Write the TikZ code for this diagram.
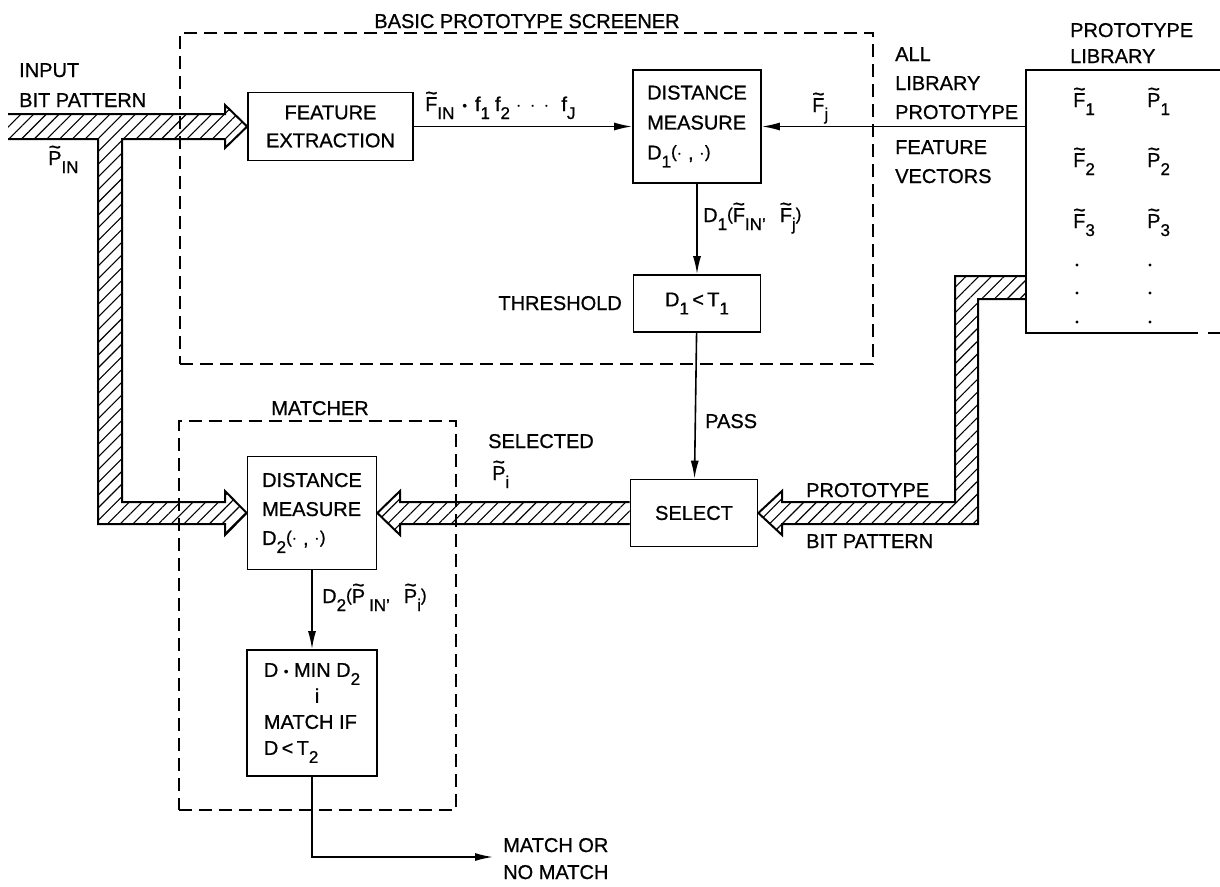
\documentclass[tikz,border=0pt]{standalone}
\usepackage{fontspec}
\setmainfont{Liberation Sans}[FakeBold=0.8]
\usetikzlibrary{arrows.meta,patterns.meta}
\newcommand{\fs}{\fontsize{20}{28}\selectfont}
\newsavebox\tlbox
\newcommand{\tl}[1]{\sbox\tlbox{#1}\makebox[0pt][l]{\makebox[\wd\tlbox]{\raisebox{11pt}{\fontsize{21}{21}\selectfont\char"7E}}}\usebox\tlbox}
\newcommand{\sbs}[1]{\raisebox{-8pt}{\fontsize{17}{17}\selectfont #1}}
\newcommand{\lp}{\raisebox{2pt}{\fontsize{17}{17}\selectfont(}}
\newcommand{\rp}{\raisebox{2pt}{\fontsize{17}{17}\selectfont)}}
\newcommand{\eqd}{\raisebox{1pt}{\fontsize{13}{13}\selectfont\textbullet}}
\begin{document}
\begin{tikzpicture}[x=1pt,y=-1pt,
  box/.style={draw,line width=1.7pt,inner sep=0pt,font=\fs},
  grp/.style={draw,line width=2pt,dash pattern=on 13pt off 7pt,inner sep=0pt},
  lbl/.style={inner sep=0pt,font=\fs},
  arr/.style={line width=1.6pt,-{Latex[length=18pt,width=8pt]}},
  hatch/.style={pattern={Lines[angle=45,distance=9pt,line width=1.1pt]}},
  edge/.style={line width=2pt,line join=miter}]
\useasboundingbox (0,0) rectangle (1220,886);

% boxes
\node[box,minimum width=165pt,minimum height=68pt,align=center] (fe) at (330.5,126.5) {FEATURE\\EXTRACTION};
\node[box,minimum width=128pt,minimum height=113pt,align=left,font=\fontsize{20}{30}\selectfont] (dm1) at (697,126.5) {DISTANCE\\MEASURE\\D\sbs{1}\lp$\cdot$ , $\cdot$\rp};
\node[box,minimum width=127pt,minimum height=57pt] (th) at (697,303.5) {D\sbs{1}\,<\,T\sbs{1}};
\node[box,minimum width=127pt,minimum height=67pt] (sel) at (694,513) {SELECT};
\node[box,minimum width=129pt,minimum height=113pt,align=left,font=\fontsize{20}{29}\selectfont] (dm2) at (312,513) {DISTANCE\\MEASURE\\D\sbs{2}\lp$\cdot$ , $\cdot$\rp};
\node[box,minimum width=130pt,minimum height=126pt,align=left,font=\fontsize{20}{26}\selectfont] (mn) at (312,713) {D \eqd{} MIN D\sbs{2}\\\hspace*{51pt}i\\MATCH IF\\D\,<\,T\sbs{2}};

% group boxes
\node[grp,minimum width=693pt,minimum height=331pt] (scr) at (526.5,198.5) {};
\node[grp,minimum width=277pt,minimum height=389pt] (mat) at (317.5,615.5) {};
\node[lbl,anchor=base] (scrt) at (527,28) {BASIC PROTOTYPE SCREENER};
\node[lbl,anchor=base] (matt) at (320,415) {MATCHER};

% library
\coordinate (libF) at (1026,126.5);
\draw[line width=1.7pt] (1220,70) -- (1026,70) -- (1026,333) -- (1198,333);
\draw[line width=1.7pt] (1208,333) -- (1220,333);
\node[lbl,anchor=base west,align=left,font=\fontsize{20}{26}\selectfont] (libt) at (1070,63) {PROTOTYPE\\LIBRARY};
\node[lbl,anchor=base west] (f1) at (1073,107) {\tl{F}\sbs{1}};
\node[lbl,anchor=base west] (p1) at (1147,107) {\tl{P}\sbs{1}};
\node[lbl,anchor=base west] (f2) at (1073,167) {\tl{F}\sbs{2}};
\node[lbl,anchor=base west] (p2) at (1147,167) {\tl{P}\sbs{2}};
\node[lbl,anchor=base west] (f3) at (1073,228) {\tl{F}\sbs{3}};
\node[lbl,anchor=base west] (p3) at (1147,228) {\tl{P}\sbs{3}};
\foreach \yy in {265,293,322}{
  \fill (1077,\yy) circle (1.6pt);
  \fill (1150,\yy) circle (1.6pt);
}

% hatched input bus
\fill[hatch] (8,114) -- (225,114) -- (225,105) -- (fe.west) -- (225,148) -- (225,139) -- (122,139) -- (122,502) -- (225,502) -- (225,491) -- (dm2.west) -- (225,535) -- (225,524) -- (98,524) -- (98,139) -- (8,139) -- cycle;
\draw[edge] (8,114) -- (225,114) -- (225,105) -- (fe.west) -- (225,148) -- (225,139) -- (122,139) -- (122,502) -- (225,502) -- (225,491) -- (dm2.west) -- (225,535) -- (225,524) -- (98,524) -- (98,139) -- (8,139);

% hatched library bus
\fill[hatch] (1026,276) -- (955,276) -- (955,502) -- (782,502) -- (782,491) -- (sel.east) -- (782,535) -- (782,524) -- (978,524) -- (978,299) -- (1026,299) -- cycle;
\draw[edge] (1026,276) -- (955,276) -- (955,502) -- (782,502) -- (782,491) -- (sel.east) -- (782,535) -- (782,524) -- (978,524) -- (978,299) -- (1026,299);

% hatched selected bus
\fill[hatch] (sel.west |- 0,502) -- (400,502) -- (400,491) -- (dm2.east) -- (400,535) -- (400,524) -- (sel.west |- 0,524) -- cycle;
\draw[edge] (sel.west |- 0,502) -- (400,502) -- (400,491) -- (dm2.east) -- (400,535) -- (400,524) -- (sel.west |- 0,524);

% thin connectors
\draw[arr] (fe) -- (dm1);
\draw[arr] (libF) -- (dm1);
\draw[arr] (dm1) -- (th);
\draw[arr] (th) -- (sel);
\draw[arr] (dm2) -- (mn);
\coordinate (out) at (493,857);
\draw[arr] (mn.south) |- (out);

% labels
\node[lbl,anchor=base west,align=left,font=\fontsize{20}{30}\selectfont] (inl) at (19,107) {INPUT\\BIT PATTERN};
\node[lbl,anchor=base west] (pin) at (48,165) {\tl{P}\sbs{IN}};
\node[lbl,anchor=base west] (fin) at (425,111) {\tl{F}\sbs{IN}\hspace{8pt}\eqd\hspace{8pt}f\sbs{1}\hspace{5pt}f\sbs{2}\hspace{6pt}$\cdot\,\cdot\,\cdot$\hspace{12pt}f\sbs{J}};
\node[lbl,anchor=base west] (fj) at (812,112) {\tl{F}\sbs{j}};
\node[lbl,anchor=base west,align=left,font=\fontsize{20}{29}\selectfont] (allt) at (895,183) {ALL\\LIBRARY\\PROTOTYPE\\[6pt]FEATURE\\VECTORS};
\node[lbl,anchor=base west] (d1l) at (703,222) {D\sbs{1}\lp\tl{F}\sbs{IN'}\hspace{14pt}\tl{F}\sbs{j}\rp};
\node[lbl,anchor=base east] (thl) at (622,310) {THRESHOLD};
\node[lbl,anchor=base west] (pass) at (705,428) {PASS};
\node[lbl,anchor=base west] (selt) at (488,448) {SELECTED};
\node[lbl,anchor=base west] (pi) at (492,480) {\tl{P}\sbs{i}};
\node[lbl,anchor=base west] (ptop) at (806,497) {PROTOTYPE};
\node[lbl,anchor=base west] (pbot) at (806,548) {BIT PATTERN};
\node[lbl,anchor=base west] (d2l) at (322,603) {D\sbs{2}\lp\tl{P}\hspace{4pt}\sbs{IN'}\hspace{14pt}\tl{P}\sbs{i}\rp};
\node[lbl,anchor=base west,align=left,font=\fontsize{20}{27}\selectfont] (mres) at (503,879) {MATCH OR\\NO MATCH};
\end{tikzpicture}
\end{document}
